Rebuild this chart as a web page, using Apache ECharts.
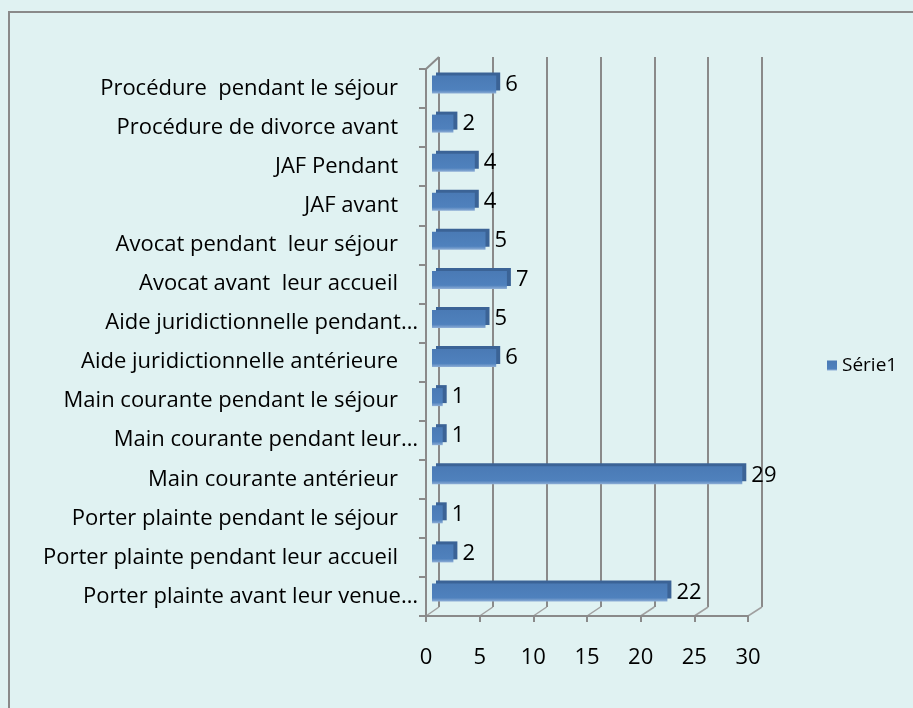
<!DOCTYPE html>
<html>
<head>
<meta charset="utf-8">
<script src="https://cdn.jsdelivr.net/npm/echarts@6/dist/echarts.min.js"></script>
<style>
  html, body { margin: 0; padding: 0; background: #e0f2f2; }
  #chart { width: 913px; height: 708px; }
</style>
</head>
<body>
<div id="chart"></div>
<script>
// Horizontal "3D" bar chart, Excel look. Front axes, back-wall gridlines, bars in between.
const categories = [
  'Procédure  pendant le séjour',
  'Procédure de divorce avant',
  'JAF Pendant',
  'JAF avant',
  'Avocat pendant  leur séjour',
  'Avocat avant  leur accueil',
  'Aide juridictionnelle pendant…',
  'Aide juridictionnelle antérieure',
  'Main courante pendant le séjour',
  'Main courante pendant leur…',
  'Main courante antérieur',
  'Porter plainte pendant le séjour',
  'Porter plainte pendant leur accueil',
  'Porter plainte avant leur venue…'
];
const serie1 = [6, 2, 4, 4, 5, 7, 5, 6, 1, 1, 29, 1, 2, 22];
const xTicks = { min: 0, max: 30, interval: 5 };
const tickValues = [0, 5, 10, 15, 20, 25, 30];

const FONT = '"Open Sans", sans-serif';
const FS = 22;
const AXIS = '#8a8a8a';

const chart = echarts.init(document.getElementById('chart'), null, { renderer: 'canvas' });

chart.setOption({
  backgroundColor: '#e0f2f2',
  animation: false,
  textStyle: { fontFamily: FONT },
  legend: {
    data: ['Série1'],
    left: 822, top: 351,
    itemWidth: 10, itemHeight: 10, itemGap: 7,
    icon: 'rect',
    textStyle: { fontSize: 19, color: '#000', fontFamily: FONT }
  },
  grid: [
    // back wall (gridlines only)
    { left: 439, right: 151, top: 57, bottom: 101 },
    // front axes
    { left: 426, right: 165, top: 69, bottom: 92 },
    // bars, mid-depth
    { left: 432, right: 160, top: 65, bottom: 96 }
  ],
  xAxis: [
    { gridIndex: 0, type: 'value', ...xTicks,
      axisLine: { show: false }, axisTick: { show: false }, axisLabel: { show: false },
      splitLine: { show: true, lineStyle: { color: AXIS, width: 2 } } },
    { gridIndex: 1, type: 'value', ...xTicks,
      axisLine: { show: true, lineStyle: { color: AXIS, width: 2 } },
      axisTick: { show: true, length: 6, lineStyle: { color: AXIS, width: 2 } },
      axisLabel: { fontSize: FS, color: '#000', margin: 31, fontFamily: FONT },
      splitLine: { show: false } },
    { gridIndex: 2, type: 'value', ...xTicks, show: false, splitLine: { show: false } }
  ],
  yAxis: [
    { gridIndex: 0, type: 'category', data: categories, inverse: true, show: false },
    { gridIndex: 1, type: 'category', data: categories, inverse: true,
      axisLine: { show: true, lineStyle: { color: AXIS, width: 2 } },
      axisTick: { show: true, length: 7, lineStyle: { color: AXIS, width: 2 } },
      axisLabel: {
        interval: 0, margin: 8, color: '#000', fontSize: FS, fontFamily: FONT,
        formatter: v => v.endsWith('…') ? '{t|' + v + '}' : '{p|' + v + '}',
        rich: {
          t: { fontSize: FS, color: '#000', fontFamily: FONT },
          p: { fontSize: FS, color: '#000', fontFamily: FONT, padding: [0, 20, 0, 0] }
        }
      } },
    { gridIndex: 2, type: 'category', data: categories, inverse: true, show: false }
  ],
  series: [
    {
      name: 'Série1', type: 'bar', xAxisIndex: 2, yAxisIndex: 2,
      data: serie1, barWidth: 18,
      itemStyle: {
        color: new echarts.graphic.LinearGradient(0, 0, 0, 1, [
          { offset: 0, color: '#4a7ab5' },
          { offset: 0.8, color: '#4f81bd' },
          { offset: 1, color: '#8eaed6' }
        ]),
        shadowColor: '#3b6396', shadowOffsetX: 4, shadowOffsetY: -3, shadowBlur: 0
      },
      label: { show: true, position: 'right', distance: 9, fontSize: FS, color: '#000', fontFamily: FONT }
    }
  ]
});

// chart frame + 3D wall/floor edges, placed from the axes' own scales
const backTop = 57, backBottom = 708 - 101, frontTop = 69, frontBottom = 708 - 92;
const edges = tickValues.map(v => {
  const xf = chart.convertToPixel({ xAxisIndex: 1 }, v);
  const xb = chart.convertToPixel({ xAxisIndex: 0 }, v);
  return { type: 'line', silent: true, shape: { x1: xf, y1: frontBottom, x2: xb, y2: backBottom },
    style: { stroke: '#a0a0a0', lineWidth: 1.5 } };
});
const x0f = chart.convertToPixel({ xAxisIndex: 1 }, 0);
const x0b = chart.convertToPixel({ xAxisIndex: 0 }, 0);
chart.setOption({
  graphic: [
    { type: 'polyline', silent: true, shape: { points: [[9, 720], [9, 12], [930, 12]] },
      style: { stroke: '#8a8a8a', lineWidth: 2, fill: null } },
    { type: 'line', silent: true, shape: { x1: x0f, y1: frontTop, x2: x0b, y2: backTop },
      style: { stroke: AXIS, lineWidth: 2 } },
    { type: 'line', silent: true, shape: { x1: x0b, y1: backTop, x2: x0b, y2: backBottom },
      style: { stroke: AXIS, lineWidth: 2 } },
    ...edges
  ]
});
</script>
</body>
</html>
